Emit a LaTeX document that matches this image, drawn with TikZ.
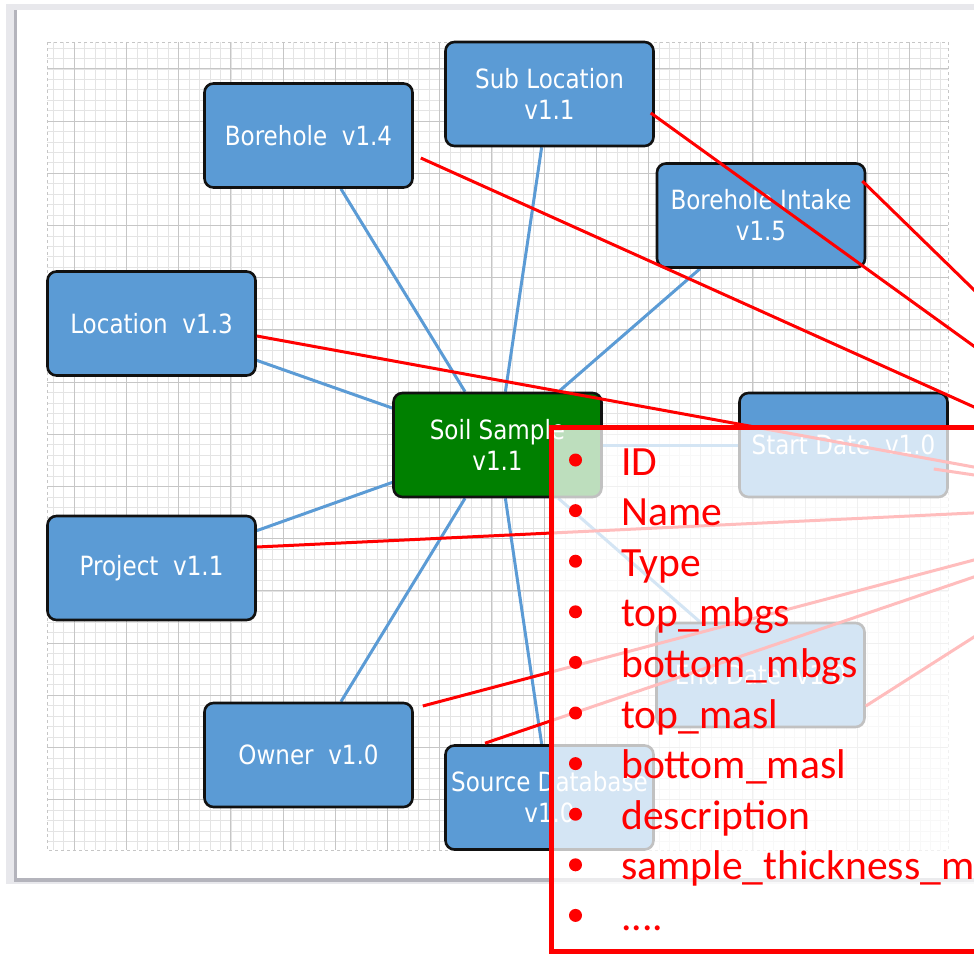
\documentclass[tikz,border=0pt]{standalone}
\usepackage{fontspec}
\usetikzlibrary{calc}
\newfontfamily\nodefont[FakeStretch=0.87]{DejaVu Sans}
\newfontfamily\listfont{Carlito}
\newcommand\fourdots{....}
\definecolor{nodeblue}{HTML}{5B9BD5}
\definecolor{soilgreen}{HTML}{008000}
\definecolor{nodeedge}{HTML}{111111}
\definecolor{gridminor}{HTML}{E4E4E4}
\definecolor{gridmajor}{HTML}{C6C6C6}
\definecolor{panelgrey}{HTML}{E8E8EC}
\definecolor{shadowgrey}{HTML}{B4B4BC}
\definecolor{linkred}{HTML}{FF0000}
\pgfdeclarelayer{back}
\pgfdeclarelayer{mid}
\pgfsetlayers{back,mid,main}
\begin{document}
\begin{tikzpicture}[x=1pt,y=-1pt,
  ent/.style={draw=nodeedge, line width=2.6pt, fill=nodeblue, rounded corners=9pt,
    minimum width=208pt, minimum height=104pt, inner sep=0pt, text=white,
    align=center, font=\nodefont\fontsize{26.5}{31}\selectfont},
  soilent/.style={ent, fill=soilgreen},
  blueline/.style={draw=nodeblue, line width=3pt},
  redline/.style={draw=linkred, line width=3pt},
  listitem/.style={anchor=base west, inner sep=0pt, text=linkred,
    font=\listfont\fontsize{41.6}{50}\selectfont},
  bulletdot/.style={fill=linkred}
]
\useasboundingbox (0,0) rectangle (974,953);
\clip (0,0) rectangle (974,953);

\begin{pgfonlayer}{back}
  \fill[white] (0,0) rectangle (974,953);
  \fill[panelgrey] (6,4) rectangle (1000,884);
  \fill[shadowgrey] (14,10) rectangle (1000,882);
  \fill[white] (17,10) rectangle (1000,878);
  % grid
  \foreach \i in {-2,...,83}
    \draw[gridminor, line width=0.8pt] ({74.3+10.44*\i},42) -- ({74.3+10.44*\i},850);
  \foreach \j in {-2,...,74}
    \draw[gridminor, line width=0.8pt] (47,{68.9+10.44*\j}) -- (948,{68.9+10.44*\j});
  \foreach \i in {0,5,...,80}
    \draw[gridmajor, line width=0.9pt] ({74.3+10.44*\i},42) -- ({74.3+10.44*\i},850);
  \foreach \j in {0,5,...,70}
    \draw[gridmajor, line width=0.9pt] (47,{68.9+10.44*\j}) -- (948,{68.9+10.44*\j});
  \draw[gray!45, dashed, line width=0.7pt] (47,42) rectangle (948,850);
\end{pgfonlayer}

% entities
\node[ent] (bore)   at (308.5,135.5) {Borehole\ \ v1.4};
\node[ent] (sub)    at (549.5,94)    {Sub Location\\v1.1};
\node[ent] (intake) at (761,215.5)   {Borehole Intake\\v1.5};
\node[ent] (loc)    at (151.5,323.5) {Location\ \ v1.3};
\node[soilent] (soil) at (497.5,445) {Soil Sample\\v1.1};
\node[ent] (start)  at (843.5,445)   {Start Date\ \ v1.0};
\node[ent] (proj)   at (151.5,568)   {Project\ \ v1.1};
\node[ent] (owner)  at (308.5,755)   {Owner\ \ v1.0};
\node[ent] (srcdb)  at (549.5,797.5) {Source Database\\v1.0};
\node[ent] (enddate) at (760.5,675)  {End Date\ \ v1.0};

% blue connectors
\begin{pgfonlayer}{mid}
  \foreach \n in {bore,sub,intake,loc,start,proj,owner,srcdb,enddate}
    \draw[blueline] (soil) -- (\n);
\end{pgfonlayer}

% free ends of the red links
\coordinate (eSub)    at (1000,365);
\coordinate (eIntake) at (1000,315.3);
\coordinate (eBore)   at (1000,418.7);
\coordinate (eLoc)    at (1000,471.8);
\coordinate (eProj)   at (1000,511.7);
\coordinate (eOwner)  at (1000,553.1);
\coordinate (eSrc)    at (1000,568.1);
\coordinate (eStart)  at (1000,478.8);
\coordinate (eEnd)    at (1000,620.4);

\draw[redline] ($(sub.east)+(-4,19)$) -- (eSub);
\draw[redline] ($(intake.east)+(-4,-34.5)$) -- (eIntake);
\draw[redline] ($(bore.east)+(7,22.5)$) -- (eBore);
\draw[redline] ($(loc.east)+(0,12.5)$) -- (eLoc);
\draw[redline] ($(proj.east)+(0,-21)$) -- (eProj);
\draw[redline] ($(owner.east)+(9,-49)$) -- (eOwner);
\draw[redline] ($(srcdb.north)+(-64.5,-1)$) -- (eSrc);
\draw[redline] ($(start.east)+(-15,24)$) -- (eStart);
\draw[redline] ($(enddate.east)+(0,31)$) -- (eEnd);

% overlay box
\fill[white, opacity=0.74] (551,427.5) rectangle (1000,960);
\draw[linkred, line width=5pt] (551,427.5) rectangle (1010,951.5);

% list
\foreach \k/\t/\nm in {0/ID/li0, 1/Name/li1, 2/Type/li2, 3/top\_mbgs/li3,
    4/bottom\_mbgs/li4, 5/top\_masl/li5, 6/bottom\_masl/li6,
    7/description/li7, 8/sample\_thickness\_m/li8, 9/\fourdots/li9} {
  \fill[bulletdot] (575.5,{460+50.6*\k}) circle (6.5);
  \node[listitem] (\nm) at (621,{475+50.6*\k}) {\t};
}
\end{tikzpicture}
\end{document}
